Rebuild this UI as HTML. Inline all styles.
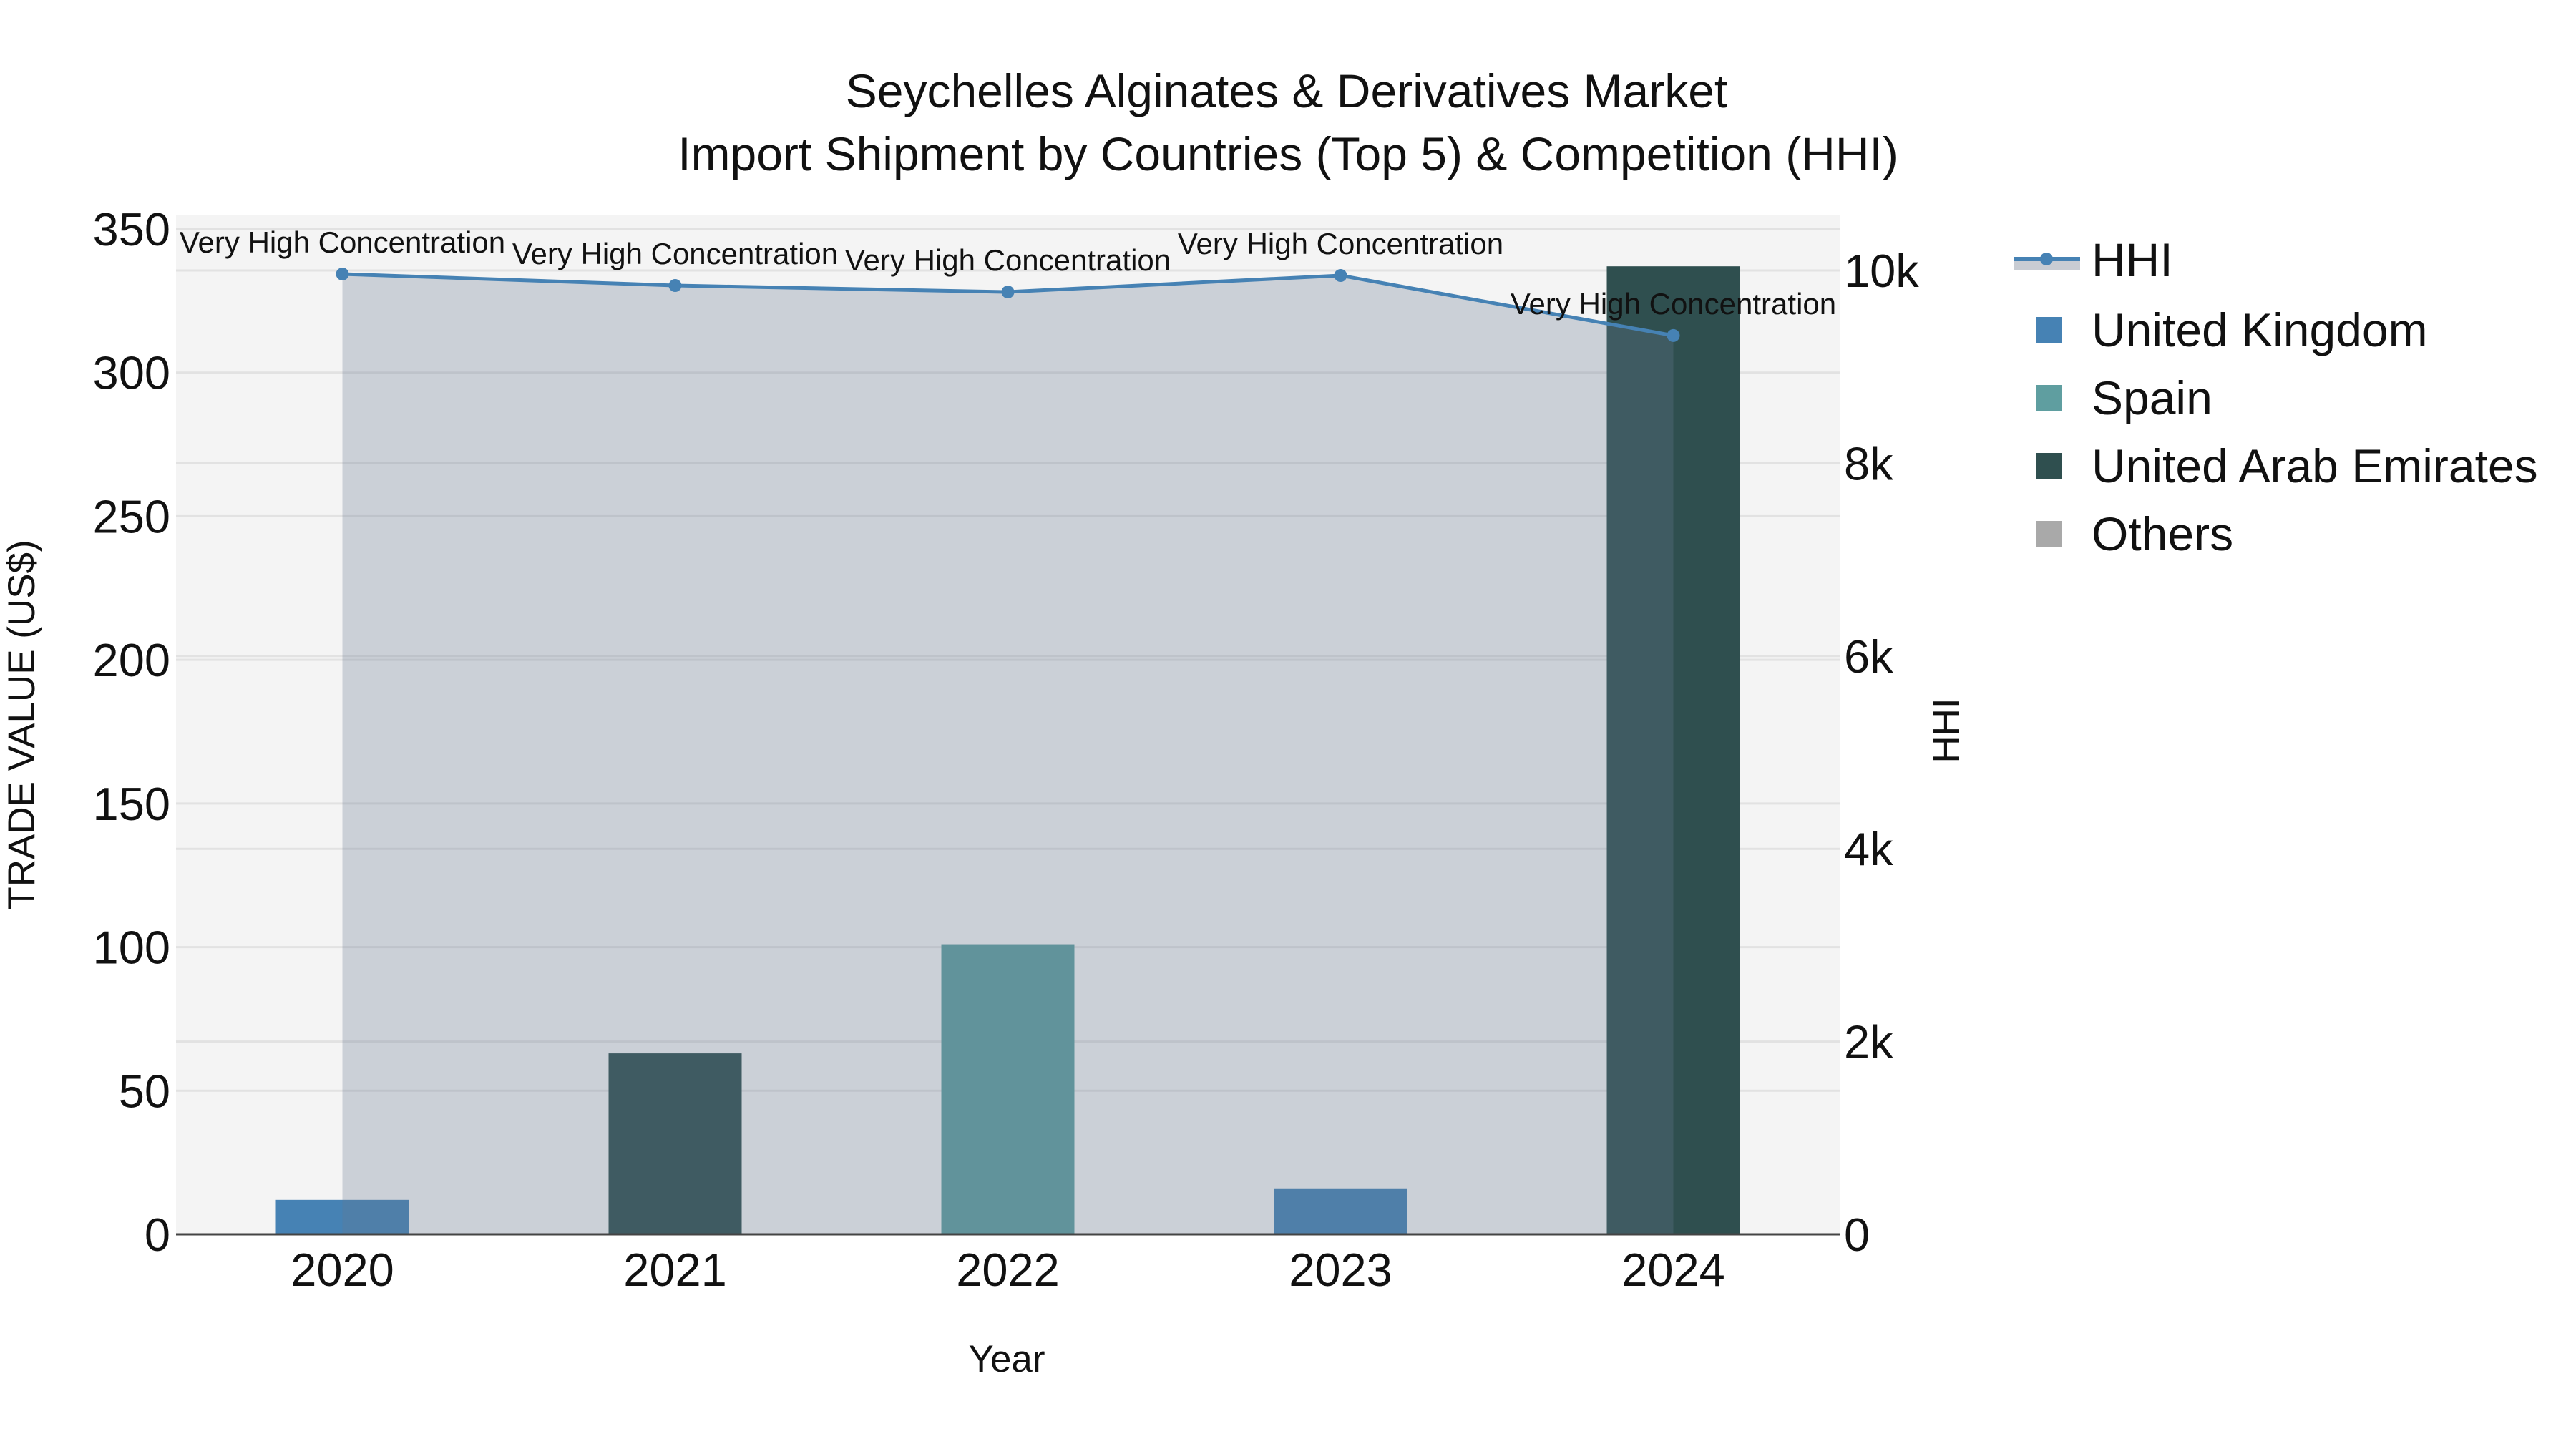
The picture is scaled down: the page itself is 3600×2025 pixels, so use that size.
<!DOCTYPE html>
<html><head><meta charset="utf-8"><style>
html,body{margin:0;padding:0;background:#fff;}
svg{display:block;font-family:"Liberation Sans",Arial,sans-serif;}
</style></head><body>
<svg id="chart" width="3600" height="2025" viewBox="0 0 3600 2025" xmlns="http://www.w3.org/2000/svg">
<rect x="0" y="0" width="3600" height="2025" fill="#ffffff"/>
<rect x="246" y="300" width="2325" height="1425" fill="#f4f4f4"/>
<g id="grid"></g>
<g id="bars"></g>
<g id="hhi"></g>
<line x1="246" y1="1725" x2="2571" y2="1725" stroke="#444" stroke-width="3"/>
<g id="ticks" font-size="65" fill="#111"></g>
<text x="1798" y="150" text-anchor="middle" font-size="66" fill="#111">Seychelles Alginates &amp; Derivatives Market</text>
<text x="1800" y="238" text-anchor="middle" font-size="66" fill="#111">Import Shipment by Countries (Top 5) &amp; Competition (HHI)</text>
<text x="1407" y="1917" text-anchor="middle" font-size="53" fill="#111">Year</text>
<text transform="translate(48,1013) rotate(-90)" text-anchor="middle" font-size="53" fill="#111">TRADE VALUE (US$)</text>
<text transform="translate(2738,1021) rotate(-90)" text-anchor="middle" font-size="53" fill="#111">HHI</text>
<g font-size="66" fill="#111">
  <g>
    <rect x="2814" y="364" width="93" height="14" fill="#c8ccd3"/>
    <line x1="2814" y1="362" x2="2907" y2="362" stroke="#4682b4" stroke-width="6"/>
    <circle cx="2860" cy="362" r="9" fill="#4682b4"/>
    <text x="2923" y="386">HHI</text>
  </g>
  <g>
    <rect x="2846" y="443" width="36" height="36" fill="#4682b4"/>
    <text x="2923" y="484">United Kingdom</text>
  </g>
  <g>
    <rect x="2846" y="538" width="36" height="36" fill="#5f9ea0"/>
    <text x="2923" y="579">Spain</text>
  </g>
  <g>
    <rect x="2846" y="633" width="36" height="36" fill="#2f4f4f"/>
    <text x="2923" y="674">United Arab Emirates</text>
  </g>
  <g>
    <rect x="2846" y="728" width="36" height="36" fill="#a9a9a9"/>
    <text x="2923" y="769">Others</text>
  </g>
</g>
</svg>
<script>
const years = ["2020","2021","2022","2023","2024"];
const barValues = [12, 63, 101, 16, 337];
const barCountries = ["United Kingdom","United Arab Emirates","Spain","United Kingdom","United Arab Emirates"];
const hhiValues = [9963, 9844, 9777, 9948, 9325];
const hhiLabels = ["Very High Concentration","Very High Concentration","Very High Concentration","Very High Concentration","Very High Concentration"];
const yTicks = [0,50,100,150,200,250,300,350];
const y2Ticks = [0,2000,4000,6000,8000,10000];
const y2TickLabels = ["0","2k","4k","6k","8k","10k"];

const NS = "http://www.w3.org/2000/svg";
const PL = 246, PR = 2571, PB = 1725;
const countryColor = {"United Kingdom":"#4682b4","Spain":"#5f9ea0","United Arab Emirates":"#2f4f4f","Others":"#a9a9a9"};
function xBand(i){ return PL + (PR-PL)/years.length*(i+0.5); }
const bandW = (PR-PL)/years.length;
function yL(v){ return PB - v*(1405/350); }
function yR(v){ return PB - v*(1347/10000); }
function mk(tag, attrs, parent){ const e=document.createElementNS(NS,tag); for(const k in attrs) e.setAttribute(k,attrs[k]); parent.appendChild(e); return e; }

const grid = document.getElementById('grid');
yTicks.forEach(t=>{ if(t===0) return;
  const l = mk('line',{x1:PL,x2:PR,y1:yL(t),y2:yL(t),stroke:'#e2e2e2','stroke-width':3},grid);
  
  
});
y2Ticks.forEach(t=>{ if(t===0) return;
  const l = mk('line',{x1:PL,x2:PR,y1:yR(t),y2:yR(t),stroke:'#e2e2e2','stroke-width':3},grid);
  
  
});

const bars = document.getElementById('bars');
barValues.forEach((v,i)=>{
  const w = bandW*0.4;
  const r = mk('rect',{x:xBand(i)-w/2,y:yL(v),width:w,height:PB-yL(v),fill:countryColor[barCountries[i]]},bars);
  
  
});

const hhi = document.getElementById('hhi');
let d = 'M'+xBand(0)+','+PB;
hhiValues.forEach((v,i)=>{ d += ' L'+xBand(i)+','+yR(v); });
d += ' L'+xBand(hhiValues.length-1)+','+PB+' Z';
const area = mk('path',{d:d,fill:'rgba(105,120,145,0.29)'},hhi);


const pts = hhiValues.map((v,i)=>xBand(i)+','+yR(v)).join(' ');
const line = mk('polyline',{points:pts,fill:'none',stroke:'#4682b4','stroke-width':5},hhi);


hhiValues.forEach((v,i)=>{
  const c = mk('circle',{cx:xBand(i),cy:yR(v),r:9,fill:'#4682b4'},hhi);
  
  
  const t = mk('text',{x:xBand(i),y:yR(v)-30,'text-anchor':'middle','font-size':42,fill:'#111'},hhi);
  t.textContent = hhiLabels[i];
  
  
});

const ticks = document.getElementById('ticks');
yTicks.forEach(t=>{
  const e = mk('text',{x:PL-8,y:yL(t)+23,'text-anchor':'end'},ticks);
  e.textContent = t;
  
  
});
y2Ticks.forEach((t,i)=>{
  const e = mk('text',{x:PR+6,y:yR(t)+23,'text-anchor':'start'},ticks);
  e.textContent = y2TickLabels[i];
  
  
});
years.forEach((y,i)=>{
  const e = mk('text',{x:xBand(i),y:1797,'text-anchor':'middle'},ticks);
  e.textContent = y;
  
  
});
</script>
</body></html>
